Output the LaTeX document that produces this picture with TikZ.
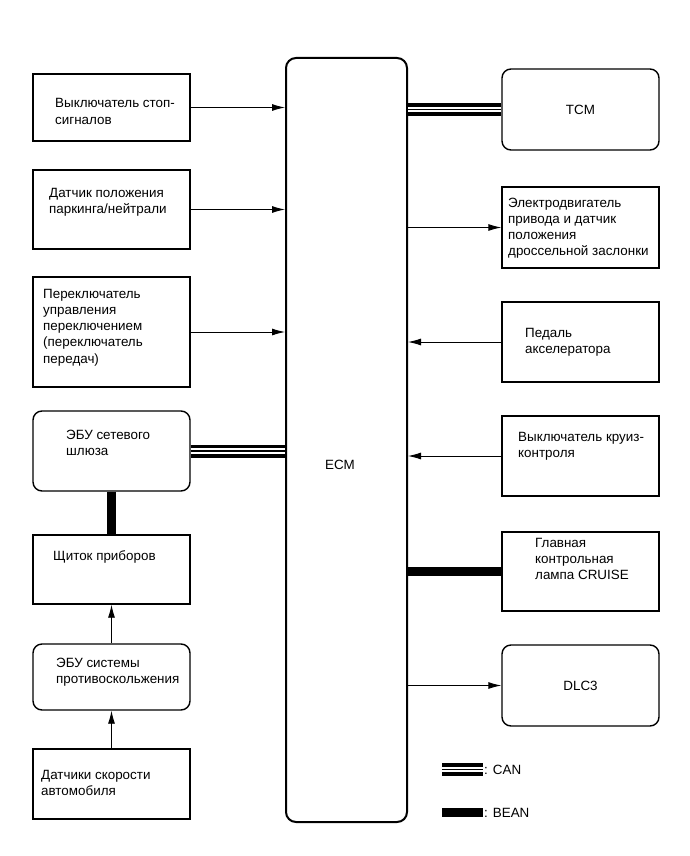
\documentclass[tikz,border=0pt]{standalone}
\usepackage{fontspec}
\setmainfont{Liberation Sans}
\usetikzlibrary{calc,arrows.meta}

\begin{document}
\begin{tikzpicture}[x=1pt,y=-1pt,
    box/.style={draw,line width=1.4pt,inner sep=0pt,minimum width=157pt,minimum height=80pt},
    rbox/.style={box,rounded corners=9pt},
    txt/.style={anchor=base west,align=left,inner sep=0pt},
    arrow/.style={->,>={Latex[length=13pt,width=7pt]},line width=0.9pt},
    can/.style={draw=white,line width=5.5pt,preaction={draw=black,line width=13pt},postaction={draw=black,line width=1.4pt}},
    bean/.style={line width=9pt},
    every node/.style={font=\fontsize{13.4}{16.3}\selectfont}
  ]
  \useasboundingbox (0,0) rectangle (690,856);

  % ECM
  \node[draw,line width=2pt,rounded corners=10pt,minimum width=121pt,minimum height=764pt,inner sep=0pt] (ecm) at (346.5,440) {};
  \node (ecmlbl) at (340,465) {ECM};

  % левая колонка (base = последняя строка)
  \node[box,minimum height=67pt] (stop) at (111.5,107.5) {};
  \node[txt] (stoplbl) at (55,124.3) {Выключатель стоп-\\сигналов};

  \node[box,minimum height=79pt] (park) at (111.5,209.5) {};
  \node[txt] (parklbl) at (49,213.5) {Датчик положения\\паркинга/нейтрали};

  \node[box,minimum height=110pt] (shift) at (111.5,332) {};
  \node[txt] (shiftlbl) at (43,363.2) {Переключатель\\управления\\переключением\\(переключатель\\передач)};

  \node[rbox] (gate) at (111.5,451) {};
  \node[txt] (gatelbl) at (66,455.3) {ЭБУ сетевого\\шлюза};

  \node[box,minimum height=69pt] (meter) at (111.5,569.5) {};
  \node[txt] (meterlbl) at (53,560) {Щиток приборов};

  \node[rbox,minimum height=66pt] (abs) at (111.5,677) {};
  \node[txt] (abslbl) at (56,683.3) {ЭБУ системы\\противоскольжения};

  \node[box,minimum height=70pt] (speed) at (111.5,784) {};
  \node[txt] (speedlbl) at (41,795.3) {Датчики скорости\\автомобиля};

  % правая колонка
  \node[rbox,minimum height=81pt] (tcm) at (580.5,109.5) {TCM};

  \node[box,minimum height=81pt] (thr) at (580.5,227.5) {};
  \node[txt] (thrlbl) at (508,255.9) {Электродвигатель\\привода и датчик\\положения\\дроссельной заслонки};

  \node[box] (pedal) at (580.5,342) {};
  \node[txt] (pedallbl) at (525,353.3) {Педаль\\акселератора};

  \node[box] (cruise) at (580.5,456) {};
  \node[txt] (cruiselbl) at (518,457.3) {Выключатель круиз-\\контроля};

  \node[box,minimum height=79pt] (lamp) at (580.5,571.5) {};
  \node[txt] (lamplbl) at (535,579.6) {Главная\\контрольная\\лампа CRUISE};

  \node[rbox,minimum height=81pt] (dlc) at (580.5,685.5) {DLC3};

  % связи
  \draw[arrow] (stop.east) -- (stop.east -| ecm.west);
  \draw[arrow] (park.east) -- (park.east -| ecm.west);
  \draw[arrow] (shift.east) -- (shift.east -| ecm.west);
  \draw[can] (gate.east) -- (gate.east -| ecm.west);
  \draw[bean] (gate.south) -- (meter.north);
  \draw[arrow] (abs.north) -- (meter.south);
  \draw[arrow] (speed.north) -- (abs.south);

  \draw[can] (ecm.east |- tcm.west) -- (tcm.west);
  \draw[arrow] (ecm.east |- thr.west) -- (thr.west);
  \draw[arrow] (pedal.west) -- (pedal.west -| ecm.east);
  \draw[arrow] (cruise.west) -- (cruise.west -| ecm.east);
  \draw[bean] (ecm.east |- lamp.west) -- (lamp.west);
  \draw[arrow] (ecm.east |- dlc.west) -- (dlc.west);

  % легенда
  \coordinate (canA) at (442,769.5);
  \coordinate (canB) at (483,769.5);
  \draw[can] (canA) -- (canB);
  \node[txt] (canlbl) at (484,774) {: CAN};
  \coordinate (beanA) at (442,812.5);
  \coordinate (beanB) at (483,812.5);
  \draw[bean] (beanA) -- (beanB);
  \node[txt] (beanlbl) at (484,817) {: BEAN};
\end{tikzpicture}
\end{document}
